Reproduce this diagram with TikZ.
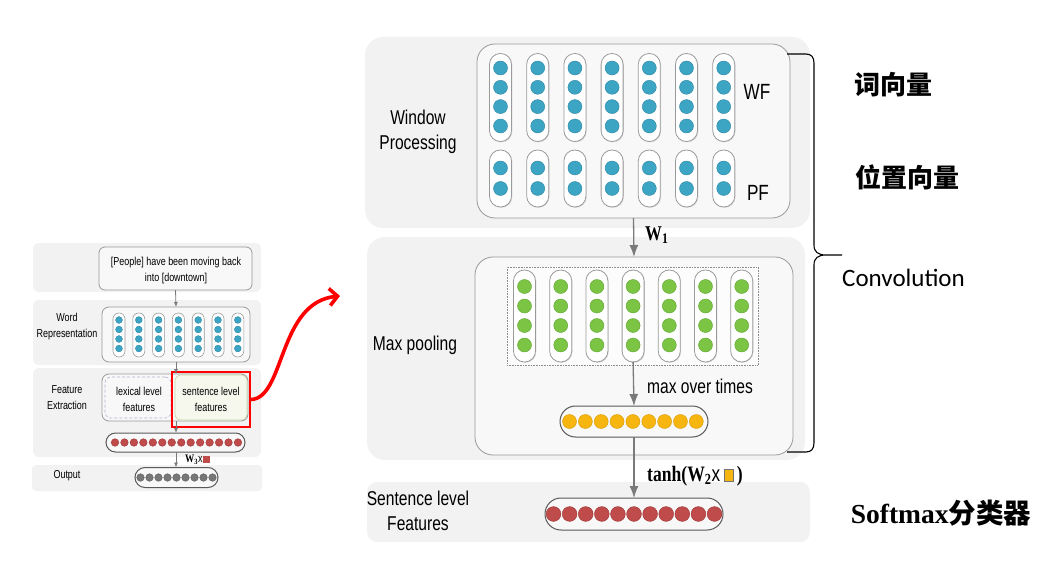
\documentclass[tikz,border=0pt]{standalone}
\usepackage{fontspec}
\setmainfont{Liberation Sans}
\newfontfamily\nsans[FakeStretch=0.78]{Liberation Sans}
\newfontfamily\nserif[FakeStretch=0.8]{Liberation Serif}
\newfontfamily\sserif{Liberation Serif}
\newfontfamily\cjkfont{Noto Sans CJK SC}
\newfontfamily\calfont{Carlito}
\usetikzlibrary{arrows.meta,shadows}
\definecolor{panelgray}{HTML}{F2F2F2}
\definecolor{boxfill}{HTML}{F8F8F8}
\definecolor{boxline}{HTML}{9A9A9A}
\definecolor{tealc}{HTML}{3DA5C4}
\definecolor{teald}{HTML}{2C86A3}
\definecolor{greenc}{HTML}{7CC544}
\definecolor{greend}{HTML}{5FA332}
\definecolor{orngc}{HTML}{F6B60F}
\definecolor{orngd}{HTML}{D99A00}
\definecolor{redc}{HTML}{BF4B4B}
\definecolor{redd}{HTML}{9E3535}
\definecolor{grayc}{HTML}{777777}
\definecolor{grayd}{HTML}{5E5E5E}
\definecolor{arrowc}{HTML}{7A7A7A}
\definecolor{lexline}{HTML}{B9AED3}
\definecolor{senline}{HTML}{C6D6A6}
\definecolor{senfill}{HTML}{F6F8EE}
\begin{document}
\begin{tikzpicture}[x=1pt,y=-1pt,
  panel/.style={fill=panelgray,draw=none,rounded corners=#1,inner sep=0pt,outer sep=0pt},
  panel/.default=14pt,
  inbox/.style={fill=boxfill,draw=boxline,line width=0.8pt,rounded corners=#1,inner sep=0pt,outer sep=0pt},
  inbox/.default=16pt,
  bigcap/.style={fill=white,draw=boxline,line width=0.8pt,rounded corners=10.9pt,minimum width=22pt,inner sep=0pt,outer sep=0pt,
     drop shadow={shadow xshift=0.8pt,shadow yshift=-0.8pt,opacity=0.25}},
  smallcap/.style={fill=white,draw=boxline,line width=0.6pt,rounded corners=5.9pt,minimum width=12pt,inner sep=0pt,outer sep=0pt},
  hbar/.style={fill=boxfill,draw=black!65,line width=1pt,rounded corners=#1,inner sep=0pt,outer sep=0pt},
  tealdot/.style={fill=tealc,draw=teald,line width=0.4pt},
  greendot/.style={fill=greenc,draw=greend,line width=0.4pt},
  orngdot/.style={fill=orngc,draw=orngd,line width=0.4pt},
  reddot/.style={fill=redc,draw=redd,line width=0.4pt},
  graydot/.style={fill=grayc,draw=grayd,line width=0.4pt},
  bigarrow/.style={draw=arrowc,line width=1.3pt,-{Latex[length=12pt,width=9pt]}},
  smallarrow/.style={draw=arrowc,line width=0.8pt,-{Latex[length=5pt,width=4pt]}},
  lbl/.style={inner sep=0pt,outer sep=0pt,align=center,font=\nsans\fontsize{20}{25}\selectfont},
  slbl/.style={inner sep=0pt,outer sep=0pt,align=center,font=\nsans\fontsize{11.5}{16}\selectfont},
]
\useasboundingbox (0,0) rectangle (1045,583);

% ================= LEFT SMALL DIAGRAM =================
\node[panel=6pt,minimum width=228pt,minimum height=49pt] (p1) at (147,267.5) {};
\node[panel=6pt,minimum width=228pt,minimum height=65pt] (p2) at (147,332.5) {};
\node[panel=6pt,minimum width=228pt,minimum height=89pt] (p3) at (147,412.5) {};
\node[panel=4pt,minimum width=230pt,minimum height=26pt] (p4) at (147,478) {};

\node[inbox=6pt,minimum width=153pt,minimum height=43pt] (tb) at (175.5,268.5) {};
\node[slbl] (tbt) at (176,271) {[People] have been moving back\\into [downtown]};

\node[inbox=7pt,minimum width=148pt,minimum height=55pt] (wr) at (176,334.5) {};
\foreach \i in {0,...,6}{
  \pgfmathsetmacro\cx{119+19.8*\i}
  \node[smallcap,minimum height=44pt] (sc\i) at (\cx,335) {};
  \foreach \yy in {320,329.5,339,348.5}
    \filldraw[tealdot] (\cx,\yy) circle[radius=3.4pt];
}
\node[slbl] (wrt) at (67,327) {Word\\Representation};

\node[inbox=7pt,minimum width=146pt,minimum height=47pt] (fe) at (175,397.5) {};
\node[fill=boxfill,draw=lexline,line width=0.6pt,densely dashed,rounded corners=6pt,minimum width=66pt,minimum height=41pt,inner sep=0pt] (lex) at (138,397.5) {};
\node[fill=senfill,draw=senline,line width=0.6pt,rounded corners=6pt,minimum width=72pt,minimum height=45pt,inner sep=0pt] (sen) at (211,397.5) {};
\node[slbl] (lext) at (139,399.5) {lexical level\\features};
\node[slbl] (sent) at (211,399) {sentence level\\features};
\node[draw=red,line width=2.4pt,minimum width=78pt,minimum height=55pt,inner sep=0pt] (redbox) at (211,399.5) {};
\node[slbl] (fet) at (67,397.5) {Feature\\Extraction};

\node[hbar=9.5pt,minimum width=139pt,minimum height=19pt] (rbar) at (175.5,442.5) {};
\foreach \i in {0,...,13}
  \filldraw[reddot] (115+9.46*\i,442.5) circle[radius=3.8pt];

\node[hbar=10pt,minimum width=83pt,minimum height=20pt] (obar) at (176.5,477.5) {};
\foreach \i in {0,...,8}
  \filldraw[graydot] (140.5+9*\i,477.5) circle[radius=3.8pt];
\node[slbl] (outt) at (67,476) {Output};

\draw[smallarrow] (tb.south) -- (wr.north);
\draw[smallarrow] (wr.south) -- ([xshift=1pt]fe.north);
\draw[smallarrow] ([xshift=1pt]fe.south) -- ([xshift=0.5pt]rbar.north);
\draw[smallarrow] ([xshift=0.5pt]rbar.south) -- ([xshift=-0.5pt]obar.north);
\node[anchor=west,inner sep=0pt] (w3) at (185,460) {\fontsize{11.5}{13}\selectfont{\nserif\bfseries W\textsubscript{3}}{\nsans x}\textcolor{redc}{\rule[-0.5pt]{7pt}{7pt}}};

% red curved arrow
\coordinate (redtip) at (340,296);
\draw[red,line width=3.6pt,line cap=round,-{Straight Barb[length=8pt,width=17pt,line width=3.6pt]}]
  (redbox.east) .. controls (285,398) and (278,302) .. (redtip);

% ================= RIGHT BIG DIAGRAM =================
\node[panel=18pt,minimum width=445pt,minimum height=191pt] (pwp) at (587.5,132.5) {};
\node[panel=18pt,minimum width=438pt,minimum height=223pt] (pmp) at (586,348.5) {};
\node[panel=10pt,minimum width=443pt,minimum height=60pt] (pslf) at (588.5,512) {};

\node[inbox=18pt,minimum width=313pt,minimum height=174pt] (wpbox) at (633.5,131) {};
\foreach \i in {0,...,6}{
  \pgfmathsetmacro\cx{500.5+37.2*\i}
  \node[bigcap,minimum height=88pt] (wf\i) at (\cx,97.5) {};
  \foreach \yy in {68,87.3,106.6,126}
    \filldraw[tealdot] (\cx,\yy) circle[radius=7pt];
  \node[bigcap,minimum height=57pt] (pf\i) at (\cx,178.5) {};
  \foreach \yy in {168,188.5}
    \filldraw[tealdot] (\cx,\yy) circle[radius=7pt];
}
\node[lbl,font=\nsans\fontsize{22}{26}\selectfont] (wft) at (757,92) {WF};
\node[lbl,font=\nsans\fontsize{22}{26}\selectfont] (pft) at (758,193) {PF};
\node[lbl] (wpt) at (418,132) {Window\\Processing};

\node[inbox=18pt,minimum width=318pt,minimum height=198pt] (mpbox) at (634,356) {};
\node[draw=black!45,densely dotted,line width=0.6pt,fill=white!60!boxfill,minimum width=251pt,minimum height=98pt,inner sep=0pt] (dotr) at (632.5,316) {};
\foreach \i in {0,...,6}{
  \pgfmathsetmacro\cx{524.5+36.2*\i}
  \node[bigcap,minimum height=92pt] (gc\i) at (\cx,316) {};
  \foreach \yy in {286.5,306,325.5,345}
    \filldraw[greendot] (\cx,\yy) circle[radius=7pt];
}
\node[lbl] (mpt) at (415,345) {Max pooling};

\node[hbar=15.5pt,minimum width=148pt,minimum height=31pt] (ob) at (634,421.5) {};
\foreach \i in {0,...,8}
  \filldraw[orngdot] (569.5+15.85*\i,421.5) circle[radius=7pt];
\node[lbl] (mot) at (700,386) {max over times};

\node[hbar=16pt,minimum width=178pt,minimum height=32pt] (rb2) at (634,514) {};
\foreach \i in {0,...,10}
  \filldraw[reddot] (553.5+16.1*\i,514) circle[radius=7.4pt];
\node[lbl] (slft) at (418,511) {Sentence level\\Features};

\draw[bigarrow] (wpbox.south) -- (mpbox.north);
\draw[bigarrow] (gc3.south) -- (ob.north);
\draw[bigarrow] (ob.south) -- (rb2.north);

\node[inner sep=0pt,anchor=west] (w1) at (645,235) {\nserif\bfseries\fontsize{21}{24}\selectfont W\textsubscript{1}};
\node[inner sep=0pt,anchor=west] (tanht) at (647,476) {\fontsize{22}{24}\selectfont{\nserif\bfseries tanh(W\textsubscript{2}}{\nsans x}\,{\setlength\fboxsep{0pt}\setlength\fboxrule{0.7pt}\fcolorbox{black!55}{orngc}{\rule{0pt}{12pt}\hspace{8pt}}}\,{\nserif\bfseries )}};

% ================= BRACE AND ANNOTATIONS =================
\coordinate (btop) at (787,54);
\coordinate (btip) at (842,255);
\coordinate (bbot) at (787,452);
\draw[line width=1.1pt,line join=round]
  (btop) -- (806,54) .. controls (811,54) and (814,57) .. (814,63)
  -- (814,245) .. controls (814,252) and (818,255) .. (826,255) -- (btip)
  (826,255) .. controls (818,255) and (814,258) .. (814,265)
  -- (814,443) .. controls (814,449) and (811,452) .. (806,452) -- (bbot);

\node[inner sep=0pt] (cy1) at (893,85) {\cjkfont\bfseries\fontsize{26}{30}\selectfont 词向量};
\node[inner sep=0pt] (cy2) at (907,177) {\cjkfont\bfseries\fontsize{26}{30}\selectfont 位置向量};
\node[inner sep=0pt] (conv) at (903.5,278) {\calfont\fontsize{25}{28}\selectfont Convolution};
\node[inner sep=0pt] (smx) at (941,513) {{\sserif\bfseries\fontsize{27.5}{30}\selectfont Softmax}{\cjkfont\bfseries\fontsize{27.5}{30}\selectfont 分类器}};
\end{tikzpicture}
\end{document}
